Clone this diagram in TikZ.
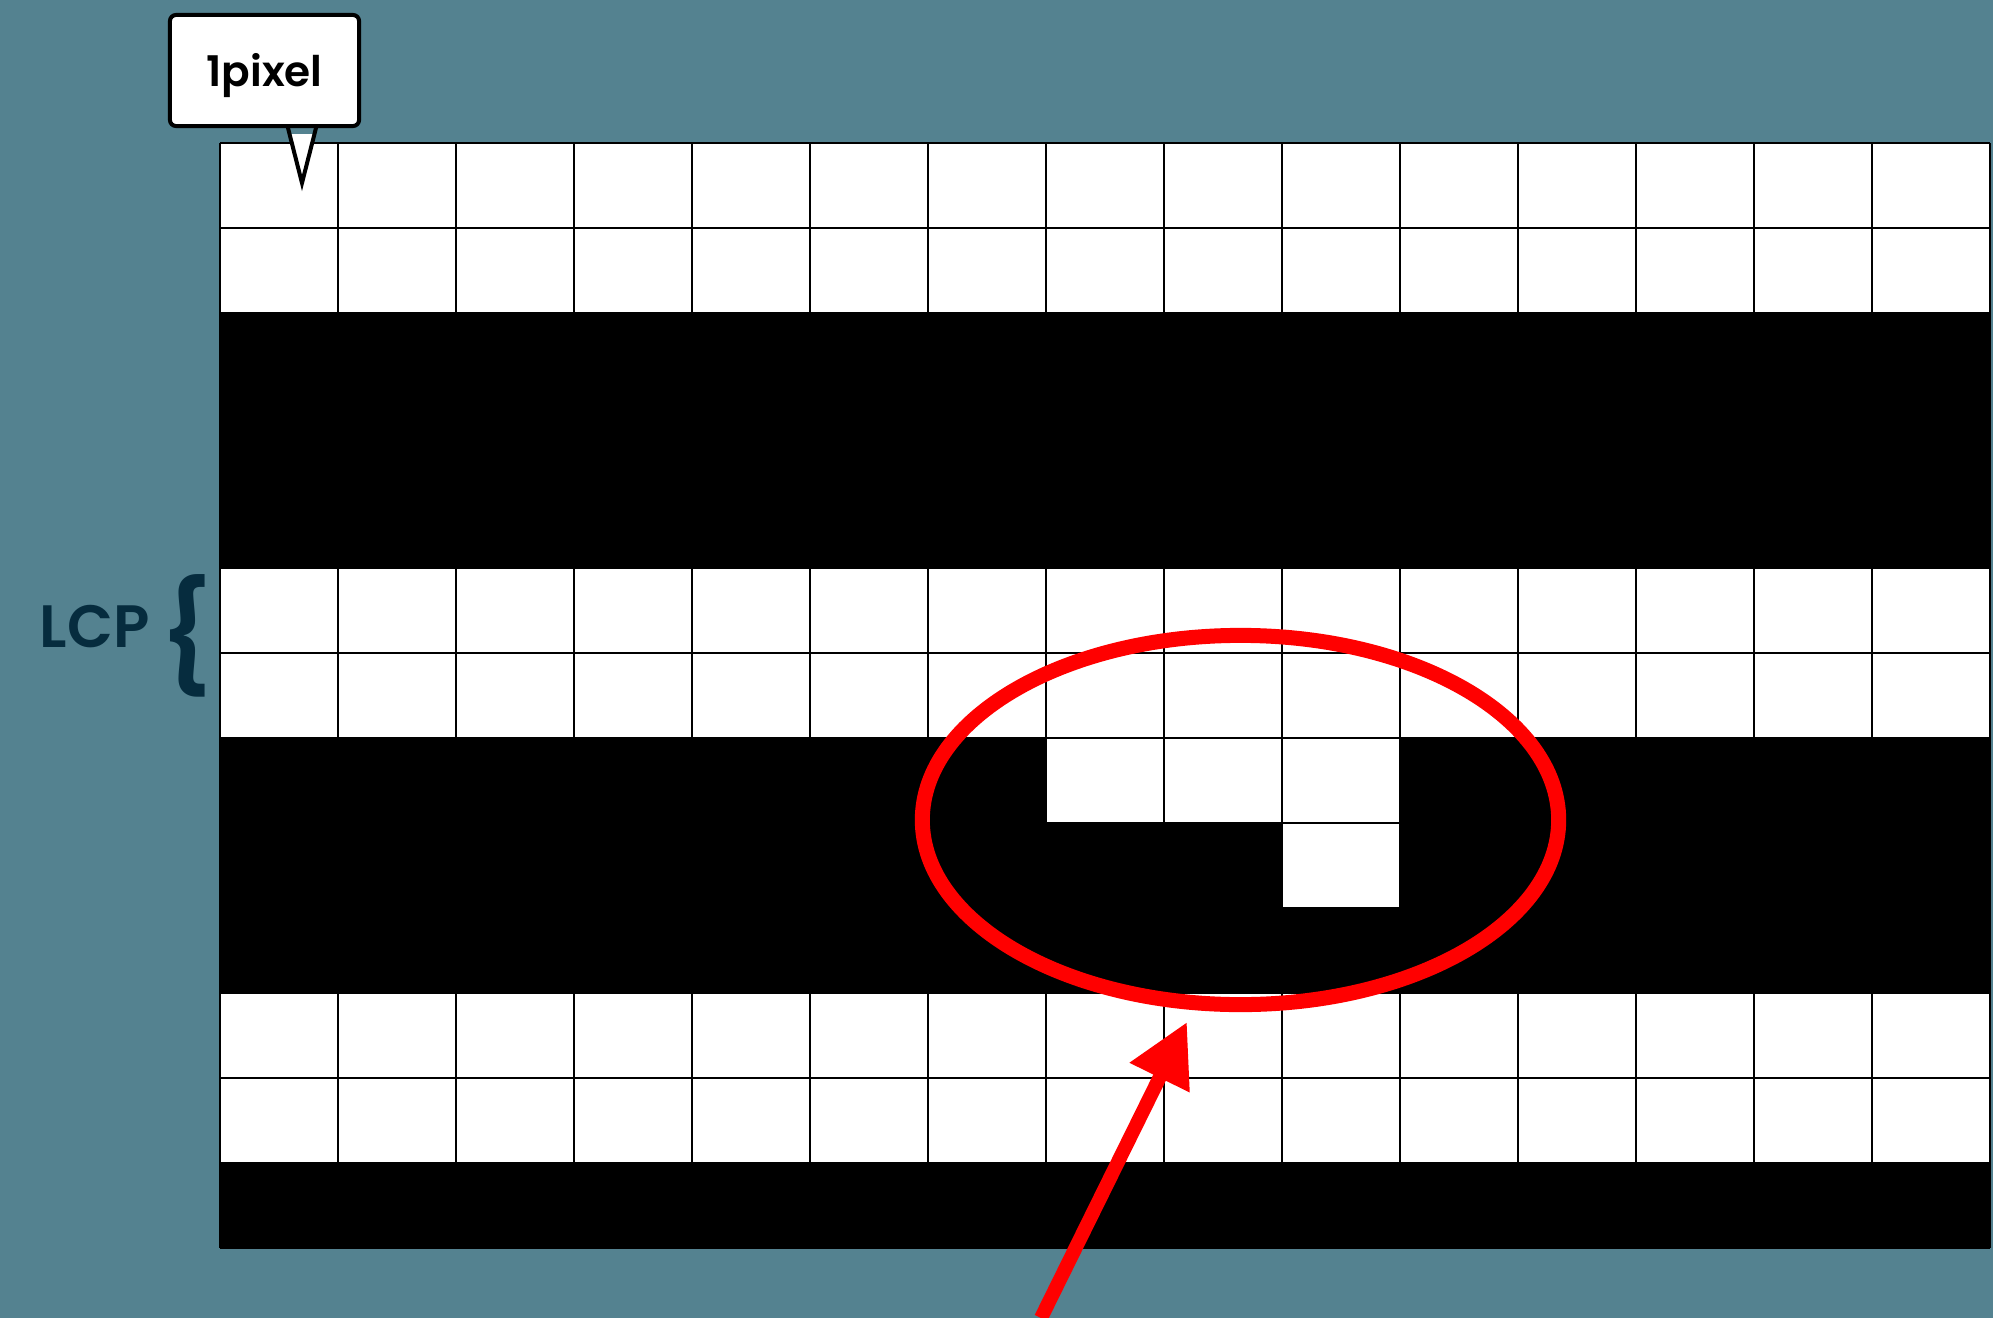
\documentclass[tikz,border=0pt]{standalone}
\usepackage{fontspec}
\setmainfont{Poppins}
\newfontfamily\semifont{Poppins SemiBold}
\usepackage{tikz}
\usetikzlibrary{arrows.meta, positioning, shapes.geometric, calc}
\definecolor{slate}{RGB}{84,130,144}
\definecolor{navy}{RGB}{6,44,62}

\begin{document}
\begin{tikzpicture}[
    x=0.01cm, y=-0.01cm,
    gridline/.style={draw=black, line width=0.02cm},
    callbox/.style={draw, fill=white, line width=0.04cm, rounded corners=0.06cm, minimum width=1.89cm, minimum height=1.11cm, text height=1em, text depth=0.1em, font=\fontsize{12}{13}\selectfont\semifont},
    callline/.style={draw, line width=0.04cm},
    ring/.style={draw=red, line width=0.15cm, ellipse, minimum width=6.36cm, minimum height=3.69cm, inner sep=0pt},
    ar/.style={-{Triangle[length=0.62cm, width=0.63cm]}, draw=red, line width=0.14cm},
    lbl/.style={text=navy, inner sep=0pt, font=\fontsize{17}{19}\selectfont\semifont}
]
\fill[slate] (0,0) rectangle (1993,1318);
\useasboundingbox (0,0) rectangle (1993,1318);

\begin{scope}[shift={(220,143)}, x=1.1793cm, y=-0.8492cm]
\fill[white] (0,0) rectangle (15,13);
\fill[black] (0,2) rectangle (15,5);
\fill[black] (0,7) rectangle (15,10);
\fill[black] (0,12) rectangle (15,13);
\fill[white] (7,7) rectangle (10,8);
\fill[white] (9,8) rectangle (10,9);
\foreach \i in {0,...,15} \draw[gridline] (\i,0) -- (\i,13);
\foreach \j in {0,...,13} \draw[gridline] (0,\j) -- (15,\j);
\end{scope}

\node[lbl, anchor=base] (lcp) at (94.5,647) {LCP};
\node[lbl, font=\fontsize{31}{33}\selectfont\semifont] (brace) at (186.5,636) {\{};

\node[callbox] (pixlabel) at (264.5,70.5) {1pixel};
\coordinate (ptip) at (302,183);
\fill[white] ($(ptip |- pixlabel.south)+(-12,6)$) -- (ptip) -- ($(ptip |- pixlabel.south)+(12,6)$) -- cycle;
\draw[callline] ($(ptip |- pixlabel.south)+(-14.5,-2)$) -- (ptip) -- ($(ptip |- pixlabel.south)+(14.5,-2)$);

\node[ring] (focus) at (1240.5,820) {};
\coordinate (tail) at (1041,1318);
\coordinate (tip) at (1187,1022);
\draw[ar] (tail) -- (tip);
\end{tikzpicture}
\end{document}
